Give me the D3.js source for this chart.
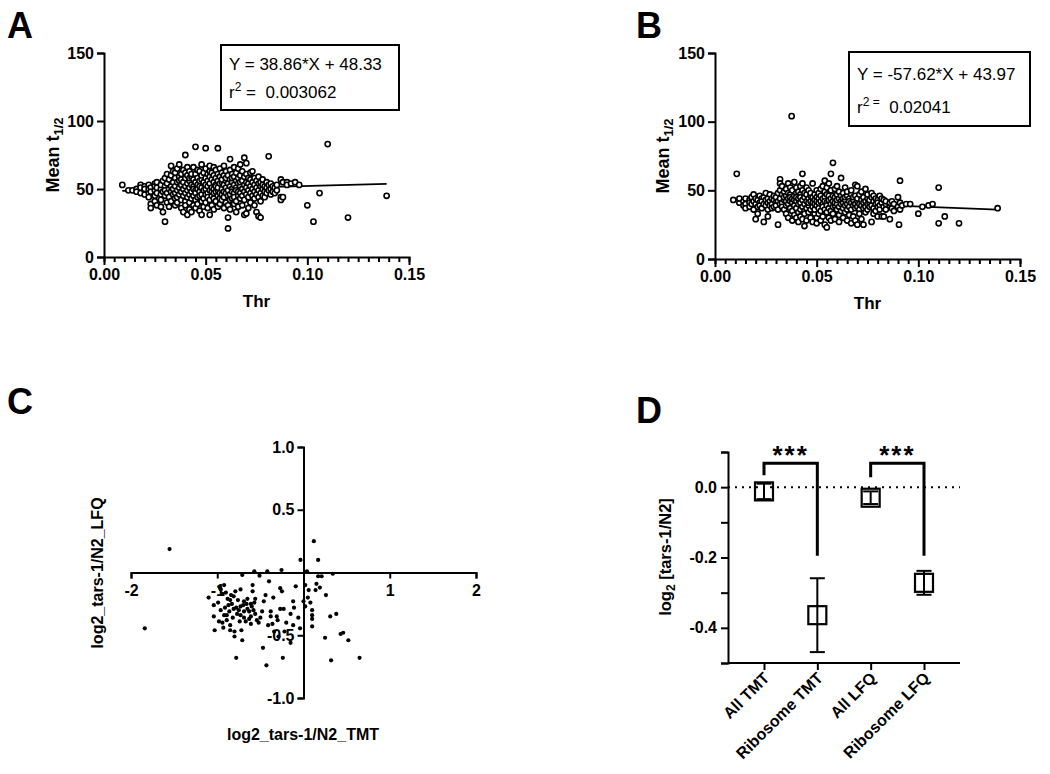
<!DOCTYPE html>
<html><head><meta charset="utf-8">
<script src="https://cdn.jsdelivr.net/npm/d3@7"></script>
<style>
body{margin:0;background:#fff}
svg text{font-family:"Liberation Sans",Arial,sans-serif;fill:#000}
</style>
</head><body>
<svg id="chart" width="1050" height="774"></svg>
<script>
// ---------- DATA ----------
// Panel A: columns of [Thr, [Mean t1/2 values]]
const columnsA = [
[0.009,[53]],[0.012,[49]],[0.014,[49]],[0.016,[50,48]],[0.018,[53,47,51]],[0.020,[52,49,46,50]],
[0.022,[53,47,50,44]],[0.023,[39,36,51,48]],[0.025,[54,49,45,41,52]],[0.026,[47,51,38,55]],
[0.028,[50,53,46,42,37]],[0.029,[33,48,56]],[0.030,[26,52,45,49,58]],[0.031,[40,54,47,61]],
[0.032,[50,44,57,37]],[0.033,[67,52,48,41,60]],[0.034,[55,46,63,50]],[0.035,[43,58,52,62,47,38]],
[0.036,[49,55,65,44,40]],[0.037,[68,51,46,59,56]],[0.038,[53,42,48,61,36,57]],[0.039,[33,50,45,64,55]],
[0.040,[75,52,47,58,41,62,38]],[0.041,[54,49,44,60,31,66]],[0.042,[51,56,46,40,63,35,58]],
[0.043,[48,53,59,43,33,61]],[0.044,[52,45,57,50,38,66]],[0.045,[81,49,55,47,61,42,36]],
[0.046,[53,58,44,64,50,39]],[0.047,[63,48,56,52,45,34]],[0.048,[31,51,57,46,60,41,68]],
[0.049,[49,54,43,62,37,55]],[0.050,[80,50,46,58,53,40,65]],[0.051,[52,47,61,56,44,36]],
[0.052,[31,49,54,59,42,63,67]],[0.053,[51,45,57,48,38,62]],[0.054,[55,50,60,43,47,35,66]],
[0.055,[48,53,58,41,64,52]],[0.056,[80,49,56,45,61,37,51]],[0.057,[54,47,59,43,65,39]],
[0.058,[50,55,62,46,42,57]],[0.059,[53,48,60,44,36,67]],[0.060,[51,56,47,63,40,58]],
[0.061,[21,29,49,54,45,60,38]],[0.062,[72,52,57,46,42,64,35]],[0.063,[50,55,48,61,43,58]],
[0.064,[53,47,59,44,66,39]],[0.065,[51,56,49,62,41,33]],[0.066,[48,54,58,45,37,65]],
[0.067,[68,52,47,60,43,55]],[0.068,[50,56,45,63,38]],[0.069,[73,53,48,59,42,31]],
[0.070,[69,51,55,46,32,61]],[0.071,[49,54,44,58,36]],[0.072,[52,47,57,40,62]],[0.073,[63,50,55,45]],
[0.074,[48,53,43,58,38]],[0.075,[51,46,56,33]],[0.076,[49,54,44,30,59]],[0.077,[52,47,29,55,41]],
[0.078,[50,45,53,57]],[0.079,[48,52,44]],[0.080,[51,55,47]],[0.081,[74,49,53]],[0.082,[50,54,46]],
[0.083,[52,48]],[0.084,[47,51]],[0.085,[53,49]],[0.087,[57,44,42]],[0.088,[55,44]],[0.090,[55,53]],
[0.092,[54]],[0.094,[55]],[0.096,[53]],[0.100,[38]],[0.103,[26]],[0.106,[47]],[0.110,[83]],
[0.120,[29]],[0.139,[45]]
];
// Panel B
const columnsB = [
[0.009,[43]],[0.0107,[62]],[0.012,[41,44]],[0.014,[42,39]],[0.015,[44,40,37]],[0.017,[43,41,38]],
[0.018,[45,40]],[0.019,[42,36,47]],[0.020,[29,44,40]],[0.021,[33,43,38]],[0.022,[46,41,39]],
[0.023,[44,37,42]],[0.024,[27,40,45]],[0.025,[43,39,48]],[0.026,[31,41,44,36]],[0.027,[47,42,39]],
[0.028,[40,44,37]],[0.029,[43,38,46]],[0.030,[41,45,39]],[0.031,[25,42,48,36]],[0.032,[58,50,44,40,55]],
[0.033,[47,41,38,53]],[0.034,[43,36,49,45]],[0.035,[39,46,42,33,51]],[0.036,[55,44,40,48,30]],
[0.037,[42,37,47,52,45]],[0.0377,[104]],[0.038,[50,41,35,44,28]],[0.039,[46,39,56,43,32]],
[0.040,[42,48,37,52,30,45]],[0.041,[40,44,34,49,27]],[0.042,[47,41,53,36,31,45]],
[0.043,[62,43,38,50,29,55]],[0.044,[24,45,40,35,48,33]],[0.045,[42,47,37,52,28]],
[0.046,[44,39,50,34,41]],[0.047,[46,36,42,30,48]],[0.048,[41,55,38,45,27]],[0.049,[43,33,47,40,36]],
[0.050,[39,45,50,30,26,42]],[0.051,[44,37,41,48,33]],[0.052,[42,46,35,51,28]],[0.053,[40,53,38,44,31]],
[0.054,[45,57,36,42,49,25]],[0.055,[23,41,47,39,52,34]],[0.056,[43,37,55,46,30]],
[0.057,[62,40,44,50,35,28]],[0.058,[70,42,38,46,33]],[0.059,[45,51,39,41,29]],[0.060,[40,47,36,53,43]],
[0.061,[44,38,49,32,27]],[0.062,[59,42,46,35,40]],[0.063,[41,37,48,44,30]],[0.064,[43,52,39,34,45]],
[0.065,[40,46,36,49,28]],[0.066,[44,38,42,32]],[0.067,[41,47,36,50,26]],[0.068,[43,39,45,31]],
[0.069,[54,40,37,46,28]],[0.070,[53,42,38,25,44]],[0.071,[40,36,47,33]],[0.072,[43,39,49,29]],
[0.073,[25,41,45,37]],[0.074,[51,42,38,34]],[0.075,[44,40,47,36]],[0.076,[41,38,43]],
[0.077,[27,45,39,48]],[0.078,[42,37,46,33]],[0.079,[40,44,35]],[0.080,[43,38,41,31]],
[0.081,[46,39,36]],[0.082,[41,44,31]],[0.083,[31,38,43]],[0.084,[40,36,42]],[0.086,[29,39,41]],
[0.087,[37,42]],[0.088,[40,35]],[0.090,[45,38]],[0.0905,[25]],[0.091,[57,41,36]],[0.092,[39]],
[0.094,[40]],[0.096,[40]],[0.100,[33]],[0.102,[38]],[0.105,[39]],[0.107,[40]],[0.110,[52,26]],
[0.113,[31]],[0.120,[26]],[0.139,[37]]
];
const fitA = [38.86, 48.33];   // slope, intercept
const fitB = [-57.62, 43.97];
const fitRange = [0.009, 0.139];
const legendA = ["Y = 38.86*X + 48.33", "0.003062"];
const legendB = ["Y = -57.62*X + 43.97", "0.02041"];
const xTicksAB = [0, 0.05, 0.10, 0.15];
const yTicksAB = [0, 50, 100, 150];

// Panel C: [log2 TMT, log2 LFQ]
const pointsC = [
[-1.553,0.187],[-1.84,-0.445],[0.12,0.25],[-0.035,0.10],[0.17,0.10],[0.04,0.01],[-0.57,0.01],[-0.42,0.01],
[-0.255,0.02],[-0.71,-0.02],[-0.51,-0.025],[0.34,-0.01],[0.17,-0.03],[0.21,-0.03],[-0.40,-0.07],[-0.09,-0.11],
[0.02,-0.10],[0.15,-0.09],[0.19,-0.12],[0.14,-0.14],[0.06,-0.14],[-0.59,-0.10],[-0.92,-0.10],[-0.96,-0.135],
[-0.79,-0.15],[-0.59,-0.15],[-0.27,-0.125],[-0.25,-0.15],[-0.44,-0.18],[0.26,-0.18],[-1.10,-0.20],[-0.94,-0.17],
[-0.85,-0.22],[-0.65,-0.21],[-0.56,-0.21],[-0.61,-0.25],[-0.12,-0.23],[0.00,-0.23],[0.02,-0.27],[-1.04,-0.26],
[-0.87,-0.26],[-0.81,-0.29],[-0.73,-0.27],[-0.69,-0.31],[-0.65,-0.29],[-0.58,-0.30],[-0.56,-0.33],[-0.48,-0.31],
[-0.38,-0.31],[-0.27,-0.29],[-0.23,-0.29],[-0.11,-0.28],[0.10,-0.30],[0.10,-0.34],[-1.04,-0.35],[-0.92,-0.34],
[-0.89,-0.34],[-0.73,-0.34],[-0.69,-0.36],[-0.61,-0.35],[-0.50,-0.36],[-0.38,-0.35],[-0.31,-0.35],[0.38,-0.33],
[0.31,-0.35],[-0.98,-0.39],[-0.94,-0.40],[-0.89,-0.38],[-0.85,-0.42],[-0.61,-0.41],[-0.52,-0.40],[-0.41,-0.42],
[-0.36,-0.41],[-0.12,-0.42],[-0.04,-0.445],[0.10,-0.43],[-1.03,-0.46],[-0.85,-0.46],[-0.80,-0.47],[-0.72,-0.46],
[-0.34,-0.47],[-0.22,-0.47],[-0.80,-0.51],[-0.71,-0.54],[-0.29,-0.51],[-0.15,-0.56],[0.25,-0.52],[0.43,-0.49],
[0.46,-0.48],[0.52,-0.54],[-0.47,-0.60],[-0.78,-0.68],[-0.24,-0.68],[-0.43,-0.74],[0.32,-0.70],[0.65,-0.68],
[-0.73,-0.135],[-0.81,-0.19],[-0.76,-0.22],[-0.69,-0.23],[-0.54,-0.38],[-0.97,-0.12],[-0.90,-0.16],[-0.83,-0.25],
[-0.78,-0.28],[-0.75,-0.30],[-0.70,-0.26],[-0.66,-0.25],[-0.63,-0.31],[-0.60,-0.27],[-0.57,-0.24],[-0.96,-0.30],
[-0.91,-0.28],[-0.86,-0.31],[-0.82,-0.36],[-0.77,-0.33],[-0.67,-0.39],[-0.63,-0.37],[-0.74,-0.39],[-0.93,-0.44],
[-0.88,-0.21],[-0.99,-0.24],[-0.84,-0.18],[-0.46,-0.23],[-0.35,-0.20],[-0.30,-0.38],[-0.20,-0.40],[-0.06,-0.36],
[0.05,-0.20],[0.08,-0.24],[0.10,-0.37],[-0.15,-0.33]
];
const xTicksC = [-2, -1, 1, 2];
const yTicksC = [-1.0, -0.5, 0.5, 1.0];

// Panel D
const categoriesD = ["All TMT", "Ribosome TMT", "All LFQ", "Ribosome LFQ"];
const meansD = [-0.012, -0.364, -0.030, -0.272];
const semD = [0.022, 0.105, 0.018, 0.034];
const yTicksD = [0.1, 0.0, -0.1, -0.2, -0.3, -0.4, -0.5];
const yLabelsD = [0.0, -0.2, -0.4];
const brackets = [ // [fromIdx, toIdx, leftLegEnd, rightLegEnd, top]
  [0, 1, 0.034, -0.195, 0.068],
  [2, 3, 0.028, -0.195, 0.068]
];

// ---------- DRAW ----------
const svg = d3.select("#chart");
svg.append("rect").attr("width",1050).attr("height",774).attr("fill","#fff");
const FONT = '"Liberation Sans",Arial,sans-serif';
const NB = "\u00a0";

function panelLabel(t, x, y){
  svg.append("text").attr("x",x).attr("y",y).attr("font-size",36).attr("font-weight","bold").text(t);
}
function styleAxis(g){
  g.selectAll("path.domain").attr("stroke","#000").attr("stroke-width",2);
  g.selectAll(".tick line").attr("stroke","#000").attr("stroke-width",2);
  g.selectAll(".tick text").attr("font-size",16).attr("font-weight","bold").attr("font-family",FONT).attr("fill","#000");
}
const flat = cols => cols.flatMap(([x, ys]) => ys.map(y => [x, y]));

function scatterPanel(cols, fit, legend, xr, yr, box, labels){
  const x = d3.scaleLinear().domain([0,0.15]).range(xr);
  const y = d3.scaleLinear().domain([0,150]).range(yr);
  const minor = d3.range(0,31).map(i => i*0.005);
  const isMajor = d => Math.abs(d*20 - Math.round(d*20)) < 1e-6;
  const gx = svg.append("g").attr("transform",`translate(0,${yr[0]})`)
    .call(d3.axisBottom(x).tickValues(minor).tickSizeOuter(0).tickSize(5).tickPadding(7)
      .tickFormat(d => isMajor(d) ? d.toFixed(2) : ""));
  styleAxis(gx);
  gx.selectAll(".tick line").attr("y2", d => isMajor(d) ? 8 : 5);
  const gy = svg.append("g").attr("transform",`translate(${xr[0]},0)`)
    .call(d3.axisLeft(y).tickValues(yTicksAB).tickSizeOuter(0).tickSize(7).tickPadding(3).tickFormat(d3.format("d")));
  styleAxis(gy);
  // fit line
  svg.append("line")
    .attr("x1", x(fitRange[0])).attr("y1", y(fit[0]*fitRange[0]+fit[1]))
    .attr("x2", x(fitRange[1])).attr("y2", y(fit[0]*fitRange[1]+fit[1]))
    .attr("stroke","#000").attr("stroke-width",1.8);
  // points
  svg.append("g").selectAll("circle").data(flat(cols)).join("circle")
    .attr("cx", d => x(d[0])).attr("cy", d => y(d[1])).attr("r",2.6)
    .attr("fill","#fff").attr("stroke","#000").attr("stroke-width",1.6);
  // legend box
  svg.append("rect").attr("x",box[0]).attr("y",box[1]).attr("width",box[2]).attr("height",box[3])
    .attr("fill","#fff").attr("stroke","#000").attr("stroke-width",2);
  svg.append("text").attr("x",box[0]+8).attr("y",box[1]+box[3]*0.38).attr("font-size",17).text(legend[0]);
  const t2 = svg.append("text").attr("x",box[0]+8).attr("y",box[1]+box[3]*0.82).attr("font-size",17);
  t2.append("tspan").text("r");
  t2.append("tspan").attr("dy",-7).attr("font-size",12).text(labels.sup);
  t2.append("tspan").attr("dy",7).text(labels.after + legend[1]);
  // axis titles
  const yl = svg.append("text").attr("font-size",18).attr("font-weight","bold").attr("text-anchor","middle")
    .attr("transform",`translate(${labels.ytx},${(yr[0]+yr[1])/2}) rotate(-90)`);
  yl.append("tspan").text("Mean t");
  yl.append("tspan").attr("dy",4).attr("font-size",13).text("1/2");
  svg.append("text").attr("x",(xr[0]+xr[1])/2).attr("y",yr[0]+50).attr("font-size",17)
    .attr("font-weight","bold").attr("text-anchor","middle").text("Thr");
}

panelLabel("A", 7, 38);
scatterPanel(columnsA, fitA, legendA, [104,409], [257,53], [221,45,178,65], {sup:"2", after:NB+"="+NB+NB, ytx:59});
panelLabel("B", 636, 38);
scatterPanel(columnsB, fitB, legendB, [715,1020], [259,53], [849,52,181,74], {sup:"2"+NB+"=", after:NB+NB, ytx:669});

// Panel C
panelLabel("C", 7, 414);
{
  const x = d3.scaleLinear().domain([-2,2]).range([131,476]);
  const y = d3.scaleLinear().domain([-1,1]).range([698,447]);
  const gx = svg.append("g").attr("transform",`translate(0,${y(0)})`)
    .call(d3.axisBottom(x).tickValues(xTicksC).tickSizeOuter(0).tickSize(6).tickPadding(6).tickFormat(d => String(d)));
  styleAxis(gx);
  const gy = svg.append("g").attr("transform",`translate(${x(0)},0)`)
    .call(d3.axisLeft(y).tickValues(yTicksC).tickSizeOuter(0).tickSize(6).tickPadding(3).tickFormat(d => d.toFixed(1)));
  styleAxis(gy);
  svg.append("g").selectAll("circle").data(pointsC).join("circle")
    .attr("cx", d => x(d[0])).attr("cy", d => y(d[1])).attr("r",2.1).attr("fill","#000");
  svg.append("text").attr("font-size",16).attr("font-weight","bold").attr("text-anchor","middle")
    .attr("transform",`translate(103,573) rotate(-90)`).text("log2_tars-1/N2_LFQ");
  svg.append("text").attr("x",303).attr("y",740).attr("font-size",16).attr("font-weight","bold")
    .attr("text-anchor","middle").text("log2_tars-1/N2_TMT");
}

// Panel D
panelLabel("D", 636, 423);
{
  const x = d3.scalePoint().domain(categoriesD).range([728,960]).padding(0.675);
  const y = d3.scaleLinear().domain([-0.5,0.1]).range([663,452]);
  // zero dotted line
  svg.append("line").attr("x1",728).attr("x2",960).attr("y1",y(0)).attr("y2",y(0))
    .attr("stroke","#000").attr("stroke-width",2).attr("stroke-dasharray","2,5");
  const gy = svg.append("g").attr("transform","translate(728,0)")
    .call(d3.axisLeft(y).tickValues(yTicksD).tickSizeOuter(0).tickSize(7).tickPadding(4)
      .tickFormat(d => yLabelsD.some(v => Math.abs(v-d)<1e-9) ? d.toFixed(1) : ""));
  styleAxis(gy);
  const gx = svg.append("g").attr("transform",`translate(0,${y(-0.5)})`)
    .call(d3.axisBottom(x).tickSizeOuter(0).tickSize(7));
  styleAxis(gx);
  gx.select("path.domain").attr("d","M728,0H960");
  gx.selectAll(".tick text").attr("font-size",16).attr("text-anchor","end")
    .attr("x",0).attr("y",0).attr("dy",0).attr("transform","translate(6,16) rotate(-45)");
  // error bars
  const g = svg.append("g");
  categoriesD.forEach((c,i) => {
    const cx = x(c), m = meansD[i], s = semD[i];
    g.append("line").attr("x1",cx).attr("x2",cx).attr("y1",y(m+s)).attr("y2",y(m-s)).attr("stroke","#000").attr("stroke-width",2);
    [m+s, m-s].forEach(v => g.append("line").attr("x1",cx-7.5).attr("x2",cx+7.5).attr("y1",y(v)).attr("y2",y(v))
      .attr("stroke","#000").attr("stroke-width",2));
    g.append("rect").attr("x",cx-9).attr("y",y(m)-9).attr("width",18).attr("height",18)
      .attr("fill","none").attr("stroke","#000").attr("stroke-width",2.2);
  });
  // significance brackets
  brackets.forEach(([a,b,l,r,t]) => {
    const xa = x(categoriesD[a]), xb = x(categoriesD[b]);
    svg.append("path").attr("d",`M${xa},${y(l)}V${y(t)}H${xb}V${y(r)}`)
      .attr("fill","none").attr("stroke","#000").attr("stroke-width",3);
    svg.append("text").attr("x",(xa+xb)/2).attr("y",y(t)+1).attr("text-anchor","middle")
      .attr("font-size",26).attr("font-weight","bold").attr("letter-spacing",2).text("***");
  });
  const yl = svg.append("text").attr("font-size",16.5).attr("font-weight","bold").attr("text-anchor","middle")
    .attr("transform","translate(671,557) rotate(-90)");
  yl.append("tspan").text("log");
  yl.append("tspan").attr("dy",4).attr("font-size",12).text("2");
  yl.append("tspan").attr("dy",-4).text(" [tars-1/N2]");
}
</script>
</body></html>
